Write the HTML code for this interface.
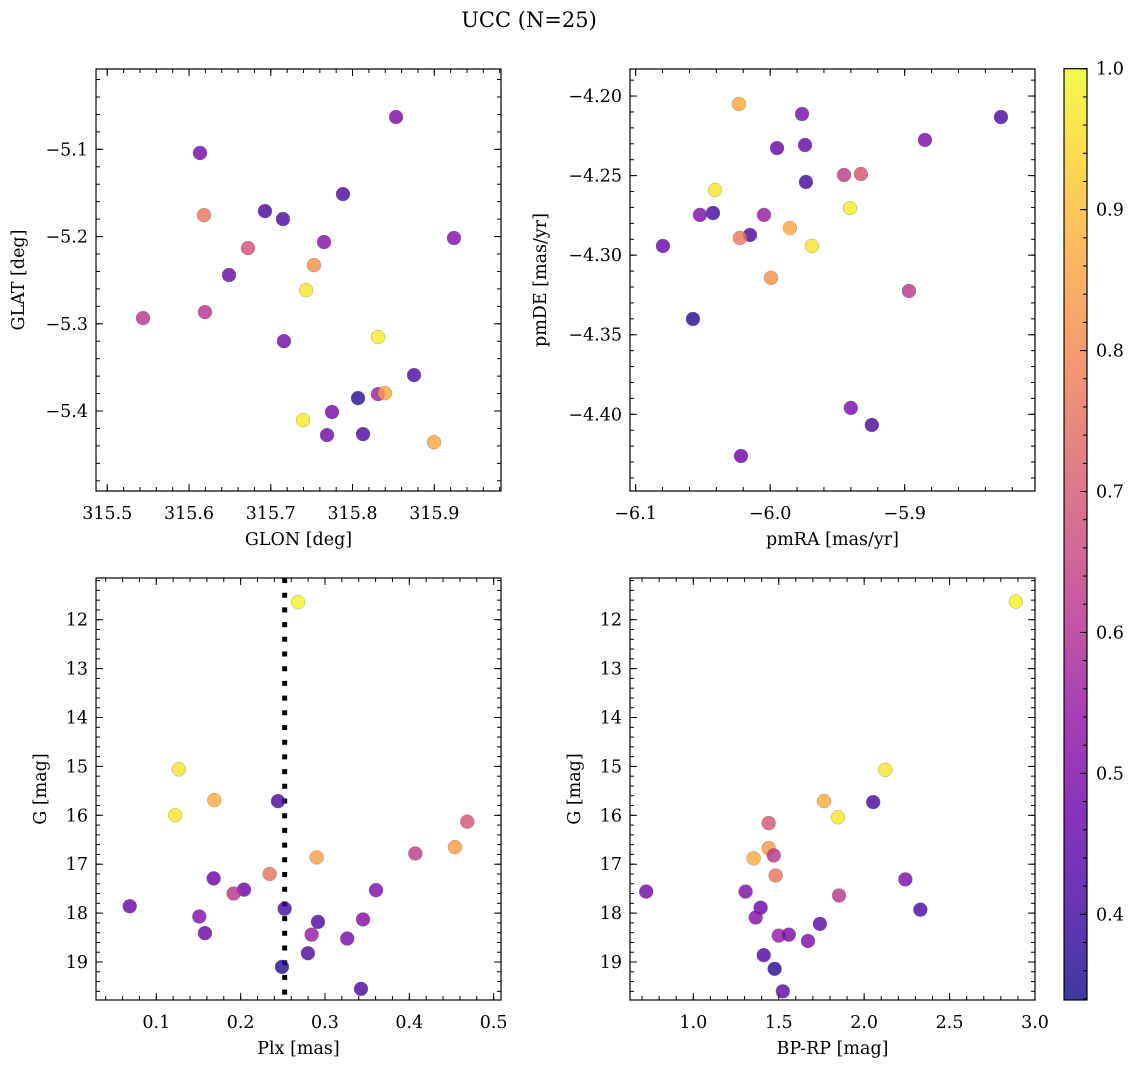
<!DOCTYPE html>
<html><head><meta charset="utf-8">
<style>
html,body{margin:0;padding:0;background:#fff;}
svg{display:block;font-family:"DejaVu Serif","Liberation Serif",serif;}
</style></head>
<body>
<svg id="fig" width="1136" height="1068" viewBox="0 0 1136 1068" xmlns="http://www.w3.org/2000/svg">
<defs>
<linearGradient id="plasma" x1="0" y1="1" x2="0" y2="0">
<stop offset="0" stop-color="#0d0887"/><stop offset="0.1" stop-color="#41049d"/><stop offset="0.2" stop-color="#6a00a8"/><stop offset="0.3" stop-color="#8f0da4"/><stop offset="0.4" stop-color="#b12a90"/><stop offset="0.5" stop-color="#cc4778"/><stop offset="0.6" stop-color="#e16462"/><stop offset="0.7" stop-color="#f2844b"/><stop offset="0.8" stop-color="#fca636"/><stop offset="0.9" stop-color="#fcce25"/><stop offset="1" stop-color="#f0f921"/>
</linearGradient>
</defs>
<text x="529" y="27" font-size="21" text-anchor="middle">UCC (N=25)</text>
</svg>
<script>
// ---- data ----
const tlGlon = [315.8532,315.6134,315.7883,315.6183,315.6929,315.7149,315.9241,315.7651,315.6721,315.7528,315.6489,315.7431,315.5437,315.6195,315.7161,315.8311,315.8752,315.8067,315.8311,315.8397,315.7749,315.7394,315.7688,315.8128,315.8997];
const tlGlat = [-5.0630,-5.1042,-5.1513,-5.1754,-5.1708,-5.1799,-5.2017,-5.2063,-5.2132,-5.2327,-5.2441,-5.2614,-5.2935,-5.2866,-5.3199,-5.3152,-5.3588,-5.3852,-5.3806,-5.3795,-5.4012,-5.4104,-5.4276,-5.4265,-5.4357];
const tlProb = [0.50,0.48,0.42,0.76,0.41,0.42,0.51,0.51,0.68,0.82,0.46,0.97,0.62,0.61,0.48,0.98,0.42,0.37,0.56,0.86,0.48,0.98,0.48,0.42,0.86];

const trPmra = [-6.0232,-5.9763,-5.8284,-5.8849,-5.9949,-5.9741,-5.9451,-5.9325,-5.9734,-6.0410,-6.0522,-6.0425,-6.0046,-5.9407,-5.9853,-6.0150,-6.0225,-5.9690,-6.0797,-5.9994,-5.8968,-6.0574,-5.9400,-5.9244,-6.0217];
const trPmde = [-4.2050,-4.2113,-4.2132,-4.2276,-4.2327,-4.2308,-4.2496,-4.2490,-4.2540,-4.2590,-4.2747,-4.2735,-4.2747,-4.2704,-4.2829,-4.2873,-4.2892,-4.2942,-4.2942,-4.3143,-4.3225,-4.3401,-4.3960,-4.4067,-4.4262];
const trProb = [0.87,0.49,0.42,0.50,0.47,0.46,0.63,0.69,0.40,0.97,0.50,0.41,0.55,0.98,0.86,0.42,0.77,0.97,0.47,0.82,0.62,0.37,0.49,0.42,0.47];

const blPlx = [0.268,0.1266,0.1688,0.2443,0.1225,0.4687,0.4541,0.4071,0.2901,0.2344,0.1680,0.2040,0.1917,0.3605,0.0685,0.2522,0.1510,0.3451,0.2917,0.1577,0.2842,0.3264,0.2798,0.2490,0.3427];
const blG = [11.64,15.06,15.69,15.71,16.00,16.13,16.65,16.78,16.86,17.20,17.29,17.52,17.60,17.53,17.86,17.91,18.07,18.13,18.18,18.41,18.44,18.52,18.82,19.10,19.55];
const blProb = [0.99,0.97,0.87,0.41,0.97,0.69,0.84,0.63,0.85,0.76,0.47,0.47,0.62,0.50,0.47,0.40,0.51,0.51,0.42,0.47,0.55,0.49,0.42,0.37,0.42];
const plxMarker = [0.2522];

const brBprp = [2.888,2.124,1.765,2.053,1.847,1.441,1.441,1.471,1.353,1.482,2.241,0.724,1.306,1.853,1.394,2.329,1.365,1.741,1.500,1.559,1.671,1.412,1.476,1.524];
const brG = [11.63,15.07,15.71,15.73,16.04,16.16,16.67,16.82,16.88,17.23,17.31,17.56,17.56,17.64,17.89,17.93,18.09,18.22,18.46,18.44,18.57,18.86,19.14,19.60];
const brProb = [0.99,0.97,0.87,0.41,0.97,0.69,0.84,0.62,0.87,0.76,0.50,0.48,0.50,0.62,0.47,0.42,0.52,0.44,0.55,0.50,0.50,0.42,0.37,0.44];

const tlXTicks = [315.5,315.6,315.7,315.8,315.9];
const tlXLabels = ["315.5","315.6","315.7","315.8","315.9"];
const tlYTicks = [-5.1,-5.2,-5.3,-5.4];
const tlYLabels = ["\u22125.1","\u22125.2","\u22125.3","\u22125.4"];
const trXTicks = [-6.1,-6.0,-5.9];
const trXLabels = ["\u22126.1","\u22126.0","\u22125.9"];
const trYTicks = [-4.20,-4.25,-4.30,-4.35,-4.40];
const trYLabels = ["\u22124.20","\u22124.25","\u22124.30","\u22124.35","\u22124.40"];
const blXTicks = [0.1,0.2,0.3,0.4,0.5];
const blXLabels = ["0.1","0.2","0.3","0.4","0.5"];
const gTicks = [12,13,14,15,16,17,18,19];
const gLabels = ["12","13","14","15","16","17","18","19"];
const brXTicks = [1.0,1.5,2.0,2.5,3.0];
const brXLabels = ["1.0","1.5","2.0","2.5","3.0"];
const cbTicks = [0.4,0.5,0.6,0.7,0.8,0.9,1.0];
const cbLabels = ["0.4","0.5","0.6","0.7","0.8","0.9","1.0"];
const vmin = 0.3392, vmax = 1.0;

// ---- helpers ----
const NS = "http://www.w3.org/2000/svg";
const svg = document.getElementById('fig');
const FS = 17.5;
function mk(tag, attrs, parent){ const e=document.createElementNS(NS,tag); for(const k in attrs) e.setAttribute(k,attrs[k]); (parent||svg).appendChild(e); return e; }
const stops=[[13,8,135],[65,4,157],[106,0,168],[143,13,164],[177,42,144],[204,71,120],[225,100,98],[242,132,75],[252,166,54],[252,206,37],[240,249,33]];
function plasma(v){ let t=(v-vmin)/(vmax-vmin); t=Math.max(0,Math.min(1,t)); const f=t*10; const i=Math.min(9,Math.floor(f)); const r=f-i; const a=stops[i],b=stops[i+1]; return 'rgb('+a.map((c,k)=>Math.round(c+(b[k]-c)*r)).join(',')+')'; }

function panel(o){
  const g=mk('g',{});
  
  
  const sx=v=>o.x0+(v-o.xmin)/(o.xmax-o.xmin)*(o.x1-o.x0);
  const sy=v=>o.y1-(v-o.ymin)/(o.ymax-o.ymin)*(o.y1-o.y0);
  const tg=mk('g',{stroke:'#000','stroke-width':1},g);
  
  
  const eps=1e-9;
  for(let v=Math.ceil(o.xmin/o.xminor)*o.xminor; v<=o.xmax+eps; v+=o.xminor){ const x=sx(v); mk('line',{x1:x,y1:o.y1,x2:x,y2:o.y1-4},tg); mk('line',{x1:x,y1:o.y0,x2:x,y2:o.y0+4},tg); }
  for(let v=Math.ceil(o.ymin/o.yminor)*o.yminor; v<=o.ymax+eps; v+=o.yminor){ const y=sy(v); mk('line',{x1:o.x0,y1:y,x2:o.x0+4,y2:y},tg); mk('line',{x1:o.x1,y1:y,x2:o.x1-4,y2:y},tg); }
  o.xt.forEach((v,i)=>{ const x=sx(v); mk('line',{x1:x,y1:o.y1,x2:x,y2:o.y1-7},tg); mk('line',{x1:x,y1:o.y0,x2:x,y2:o.y0+7},tg);
    const t=mk('text',{x:x,y:o.y1+28,'font-size':FS,'text-anchor':'middle'},g); t.textContent=o.xl[i];
      });
  o.yt.forEach((v,i)=>{ const y=sy(v); mk('line',{x1:o.x0,y1:y,x2:o.x0+7,y2:y},tg); mk('line',{x1:o.x1,y1:y,x2:o.x1-7,y2:y},tg);
    const t=mk('text',{x:o.x0-8,y:y+6,'font-size':FS,'text-anchor':'end'},g); t.textContent=o.yl[i];
      });
  if(o.vline){ o.vline.forEach(v=>{ const l=mk('line',{x1:sx(v),y1:o.y0,x2:sx(v),y2:o.y1,stroke:'#000','stroke-width':5,'stroke-dasharray':'5 9.7'},g);
      }); }
  o.xs.forEach((v,i)=>{ const c=mk('circle',{cx:sx(v),cy:sy(o.ys[i]),r:7,fill:plasma(o.ps[i]),'fill-opacity':0.8,stroke:'#777','stroke-width':0.5,'stroke-opacity':0.6},g);
      });
  const fr=mk('rect',{x:o.x0,y:o.y0,width:o.x1-o.x0,height:o.y1-o.y0,fill:'none',stroke:'#000','stroke-width':1.2},g);
   
  const xl=mk('text',{x:(o.x0+o.x1)/2,y:o.y1+54,'font-size':FS,'text-anchor':'middle'},g); xl.textContent=o.xlabel;
   
  const yx=o.ylx, yy=(o.y0+o.y1)/2;
  const yl=mk('text',{x:yx,y:yy,'font-size':FS,'text-anchor':'middle',transform:'rotate(-90 '+yx+' '+yy+')'},g); yl.textContent=o.ylabel;
   
}

panel({name:'glon-glat-panel',x0:96,x1:501,y0:69,y1:491,xmin:315.4862,xmax:315.9816,ymin:-5.4917,ymax:-5.0079,xminor:0.02,yminor:0.02,xt:tlXTicks,xl:tlXLabels,yt:tlYTicks,yl:tlYLabels,xs:tlGlon,ys:tlGlat,ps:tlProb,xlabel:'GLON [deg]',ylabel:'GLAT [deg]',ylx:24});
panel({name:'pm-panel',x0:630,x1:1035,y0:69,y1:491,xmin:-6.1042,xmax:-5.8031,ymin:-4.4482,ymax:-4.1830,xminor:0.02,yminor:0.01,xt:trXTicks,xl:trXLabels,yt:trYTicks,yl:trYLabels,xs:trPmra,ys:trPmde,ps:trProb,xlabel:'pmRA [mas/yr]',ylabel:'pmDE [mas/yr]',ylx:546});
panel({name:'plx-g-panel',x0:96,x1:501,y0:578,y1:1000,xmin:0.0285,xmax:0.5087,ymin:-19.777,ymax:-11.147,xminor:0.02,yminor:0.2,xt:blXTicks,xl:blXLabels,yt:gTicks.map(v=>-v),yl:gLabels,xs:blPlx,ys:blG.map(v=>-v),ps:blProb,xlabel:'Plx [mas]',ylabel:'G [mag]',ylx:46,vline:plxMarker});
panel({name:'cmd-panel',x0:630,x1:1035,y0:578,y1:1000,xmin:0.6294,xmax:3.0,ymin:-19.777,ymax:-11.147,xminor:0.1,yminor:0.2,xt:brXTicks,xl:brXLabels,yt:gTicks.map(v=>-v),yl:gLabels,xs:brBprp,ys:brG.map(v=>-v),ps:brProb,xlabel:'BP-RP [mag]',ylabel:'G [mag]',ylx:580});

// colorbar
const cb=mk('g',{});


const cx0=1064,cx1=1087,cy0=68.7,cy1=1000;
mk('rect',{x:cx0,y:cy0,width:cx1-cx0,height:cy1-cy0,fill:'url(#plasma)','fill-opacity':0.8},cb);
const cyv=v=>cy1-(v-vmin)/(vmax-vmin)*(cy1-cy0);
for(let v=0.34; v<=1.0001; v+=0.02){ const y=cyv(v); mk('line',{x1:cx1,y1:y,x2:cx1-4,y2:y,stroke:'#000','stroke-width':1},cb); }
cbTicks.forEach((v,i)=>{ const y=cyv(v); mk('line',{x1:cx1,y1:y,x2:cx1-7,y2:y,stroke:'#000','stroke-width':1},cb);
  const t=mk('text',{x:cx1+9,y:y+6,'font-size':FS},cb); t.textContent=cbLabels[i];
    });
mk('rect',{x:cx0,y:cy0,width:cx1-cx0,height:cy1-cy0,fill:'none',stroke:'#000','stroke-width':1.2},cb);
</script>
</body></html>
